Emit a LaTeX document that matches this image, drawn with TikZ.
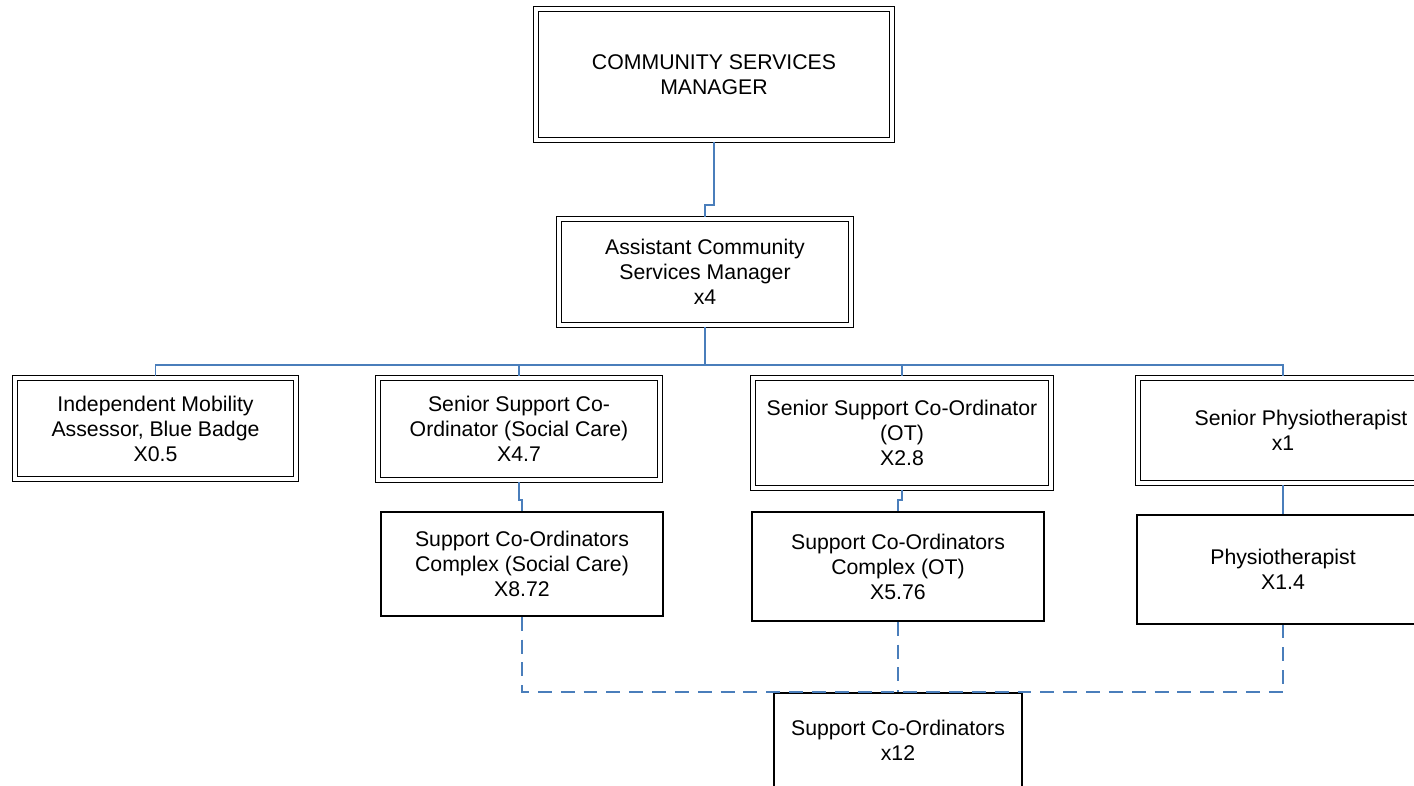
\documentclass[tikz,border=0pt]{standalone}
\usepackage{fontspec}
\setmainfont{Liberation Sans}
\usepackage{tikz}

\definecolor{linkblue}{HTML}{4A7EBB}
\tikzset{
  postbox/.style={draw, line width=0.9pt, align=center, inner sep=2pt,
    font=\fontsize{12.1pt}{14.2pt}\selectfont},
  dpostbox/.style={postbox, double, double distance=1.9pt, outer sep=1.4pt},
  link/.style={draw=linkblue, line width=1.1pt},
  dlink/.style={draw=linkblue, line width=1.3pt, dash pattern=on 7.9pt off 5.1pt}
}

\begin{document}
\begin{tikzpicture}[x=0.02cm, y=-0.02cm]
\useasboundingbox (0,0) rectangle (1414,785);
\clip (0,0) rectangle (1414,785);
%  Manager and assistant
\node[dpostbox, minimum width=7.12cm, minimum height=2.62cm] (csm) at (714,74.5) {COMMUNITY SERVICES\\MANAGER};
\node[dpostbox, minimum width=5.84cm, minimum height=2.12cm] (acsm) at (705,272) {Assistant Community\\Services Manager\\x4};
%  Senior posts
\node[dpostbox, minimum width=5.62cm, minimum height=2.02cm] (ima) at (155.5,428.5) {Independent Mobility\\Assessor, Blue Badge\\X0.5};
\node[dpostbox, minimum width=5.64cm, minimum height=2.04cm] (sscsc) at (519,429) {Senior Support Co-\\Ordinator (Social Care)\\X4.7};
\node[dpostbox, minimum width=5.96cm, minimum height=2.2cm] (sscot) at (902,433) {Senior Support Co-Ordinator\\(OT)\\X2.8};
\node[dpostbox, minimum width=5.8cm, minimum height=2.1cm] (sp) at (1283,430.5) {\hspace*{0.72cm}Senior Physiotherapist\\x1};
%  Posts below
\node[postbox, minimum width=5.64cm, minimum height=2.08cm] (scsc) at (522,564) {Support Co-Ordinators\\Complex (Social Care)\\X8.72};
\node[postbox, minimum width=5.84cm, minimum height=2.18cm] (scot) at (898,566.5) {Support Co-Ordinators\\Complex (OT)\\X5.76};
\node[postbox, minimum width=5.84cm, minimum height=2.18cm] (physio) at (1283,569.5) {Physiotherapist\\X1.4};
\node[postbox, minimum width=4.96cm, minimum height=1.88cm] (sc12) at (898,740) {Support Co-Ordinators\\x12};
%  Solid connectors
\draw[link] (csm.south) -- ++(0,63) -| (acsm.north);
\draw[link] (acsm.south) -- ++(0,37.5) coordinate (hub);
\draw[link] (ima.north) |- (hub) -| (sp.north);
\draw[link] (hub) -| (sscsc.north);
\draw[link] (hub) -| (sscot.north);
\draw[link] (sscsc.south) -- ++(0,18) -| (scsc.north);
\draw[link] (sscot.south) -- ++(0,10) -| (scot.north);
\draw[link] (sp.south) -- (physio.north);
%  Dashed connectors
\draw[dlink] (scsc.south) |- (sc12.north) -| (physio.south);
\draw[dlink] (scot.south) -- (sc12.north);
\end{tikzpicture}
\end{document}
